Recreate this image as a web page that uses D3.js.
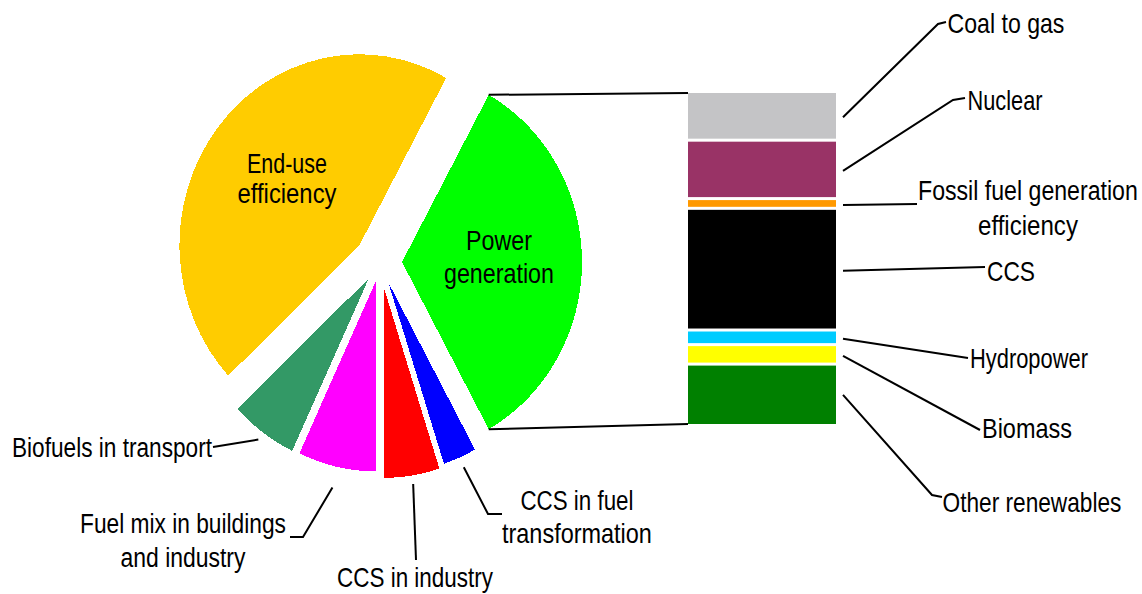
<!DOCTYPE html>
<html>
<head>
<meta charset="utf-8">
<script src="https://cdn.jsdelivr.net/npm/d3@7"></script>
<style>
  body { margin: 0; background: #fff; }
  svg { display: block; }
  .lbl { font-family: "Liberation Sans", Arial, sans-serif; font-size: 27px; fill: #000; }
  .leader { fill: none; stroke: #000; stroke-width: 2; }
</style>
</head>
<body>
<div id="chart"></div>
<script>
// pie data (clockwise, starting with the split slice)
var pieLabels = ["Power generation", "CCS in fuel transformation", "CCS in industry",
  "Fuel mix in buildings and industry", "Biofuels in transport", "End-use efficiency"]
var pieValues = [34, 3, 5, 7, 6, 45]
var pieColors = ["#00ff00", "#0000ff", "#ff0000", "#ff00ff", "#339966", "#ffcc00"]

// breakdown of power generation (top to bottom)
var barLabels = ["Coal to gas", "Nuclear", "Fossil fuel generation efficiency", "CCS",
  "Hydropower", "Biomass", "Other renewables"]
var barValues = [5, 6, 1, 12.5, 1.5, 2, 6]
var barColors = ["#c4c4c6", "#993366", "#ff9900", "#000000", "#00ccff", "#ffff00", "#008000"]

var width = 1142,
height = 594

// layout
var cx = 380, cy = 262, R = 180, k = 1.06
var explode = [22, 21, 24, 18, 19, 26]
var bar = {x: 688, w: 148, top: 93, bottom: 424, gap: 3}

var svg = d3.select("#chart").append("svg")
  .attr("width", width)
  .attr("height", height)

var rad = Math.PI / 180
var startA = (90 - pieValues[0] / d3.sum(pieValues) * 180) * rad

var pie = d3.pie().sort(null)
  .startAngle(startA)
  .endAngle(startA + 2 * Math.PI)

var arcs = pie(pieValues)

var arc = d3.arc().innerRadius(0).outerRadius(R)

function mid(i) { return (arcs[i].startAngle + arcs[i].endAngle) / 2 }

// point on an exploded slice, in page coordinates
function pt(i, r, a) {
  var m = mid(i), d = explode[i]
  return [cx + d * Math.sin(m) + r * Math.sin(a),
          cy - k * (d * Math.cos(m) + r * Math.cos(a))]
}

var pieG = svg.append("g")
  .attr("transform", "translate(" + cx + "," + cy + ") scale(1," + k + ")")

pieG.selectAll("path.slice")
  .data(arcs)
  .enter().append("path")
  .attr("class", "slice")
  .attr("d", arc)
  .attr("fill", (d, i) => pieColors[i])
  .attr("shape-rendering", "crispEdges")
  .attr("transform", (d, i) => {
    var m = mid(i)
    return "translate(" + explode[i] * Math.sin(m) + "," + (-explode[i] * Math.cos(m)) + ")"
  })

// stacked bar
var y = d3.scaleLinear()
  .domain([0, d3.sum(barValues)])
  .range([bar.top, bar.bottom])

var cum = d3.cumsum([0].concat(barValues))

svg.selectAll("rect.seg")
  .data(barValues)
  .enter().append("rect")
  .attr("class", "seg")
  .attr("x", bar.x)
  .attr("width", bar.w)
  .attr("y", (d, i) => y(cum[i]))
  .attr("height", (d, i) => y(cum[i + 1]) - y(cum[i]) - (i < barValues.length - 1 ? bar.gap : 0))
  .attr("fill", (d, i) => barColors[i])

// connectors from split slice to the bar
var line = d3.line()
var pTop = pt(0, R, arcs[0].startAngle)
var pBot = pt(0, R, arcs[0].endAngle)
svg.append("path").attr("class", "leader")
  .attr("d", line([pTop, [bar.x, bar.top]]))
svg.append("path").attr("class", "leader")
  .attr("d", line([pBot, [bar.x, bar.bottom]]))

// bar labels: text lines, centre x, baselines, widths, leader end points
var barText = [
  {lines: ["Coal to gas"], x: 1006, y: [33], w: [117], pts: [[938, 24], [946, 22]]},
  {lines: ["Nuclear"], x: 1005, y: [110], w: [75], pts: [[953, 100], [965, 98]]},
  {lines: ["Fossil fuel generation", "efficiency"], x: 1028, y: [200, 235], w: [220, 100], pts: [[917, 204]]},
  {lines: ["CCS"], x: 1011, y: [281], w: [48], pts: [[985, 267]]},
  {lines: ["Hydropower"], x: 1029, y: [368], w: [118], pts: [[968, 358]]},
  {lines: ["Biomass"], x: 1027, y: [438], w: [90], pts: [[980, 430]]},
  {lines: ["Other renewables"], x: 1032, y: [512], w: [179], pts: [[932, 495], [942, 497]]}
]

barText.forEach((t, i) => {
  var start = [bar.x + bar.w + 7, (y(cum[i]) + y(cum[i + 1])) / 2]
  svg.append("path").attr("class", "leader")
    .attr("d", line([start].concat(t.pts)))
  addText(t)
})

// pie labels outside, leader starts just beyond the slice edge
var pieText = [
  null,
  {lines: ["CCS in fuel", "transformation"], x: 577, y: [510, 543], w: [113, 150], r: R + 10, pts: [[488, 514], [502, 514]]},
  {lines: ["CCS in industry"], x: 415, y: [587], w: [156], r: R + 8, pts: [[416, 560]]},
  {lines: ["Fuel mix in buildings", "and industry"], x: 183, y: [533, 567], w: [206, 125], r: R + 20, pts: [[303, 537], [290, 537]]},
  {lines: ["Biofuels in transport"], x: 112, y: [457], w: [200], r: R + 8, pts: [[213, 447]]},
  null
]

pieText.forEach((t, i) => {
  if (!t) return
  var start = pt(i, t.r, mid(i))
  svg.append("path").attr("class", "leader")
    .attr("d", line([start].concat(t.pts)))
  addText(t)
})

// labels inside the big slices
addText({lines: ["End-use", "efficiency"], x: 287, y: [173, 203], w: [80, 99]})
addText({lines: ["Power", "generation"], x: 499, y: [250, 283], w: [66, 110]})

// condensed text: squeeze each line to the width it has in the original
function addText(t) {
  t.lines.forEach((s, j) => {
    var txt = svg.append("text")
      .attr("class", "lbl")
      .attr("x", 0)
      .attr("y", 0)
      .text(s)
    var nat = txt.node().getComputedTextLength()
    txt.attr("transform", "translate(" + (t.x - t.w[j] / 2) + "," + t.y[j] + ") scale(" + (t.w[j] / nat) + ",1)")
  })
}
</script>
</body>
</html>
